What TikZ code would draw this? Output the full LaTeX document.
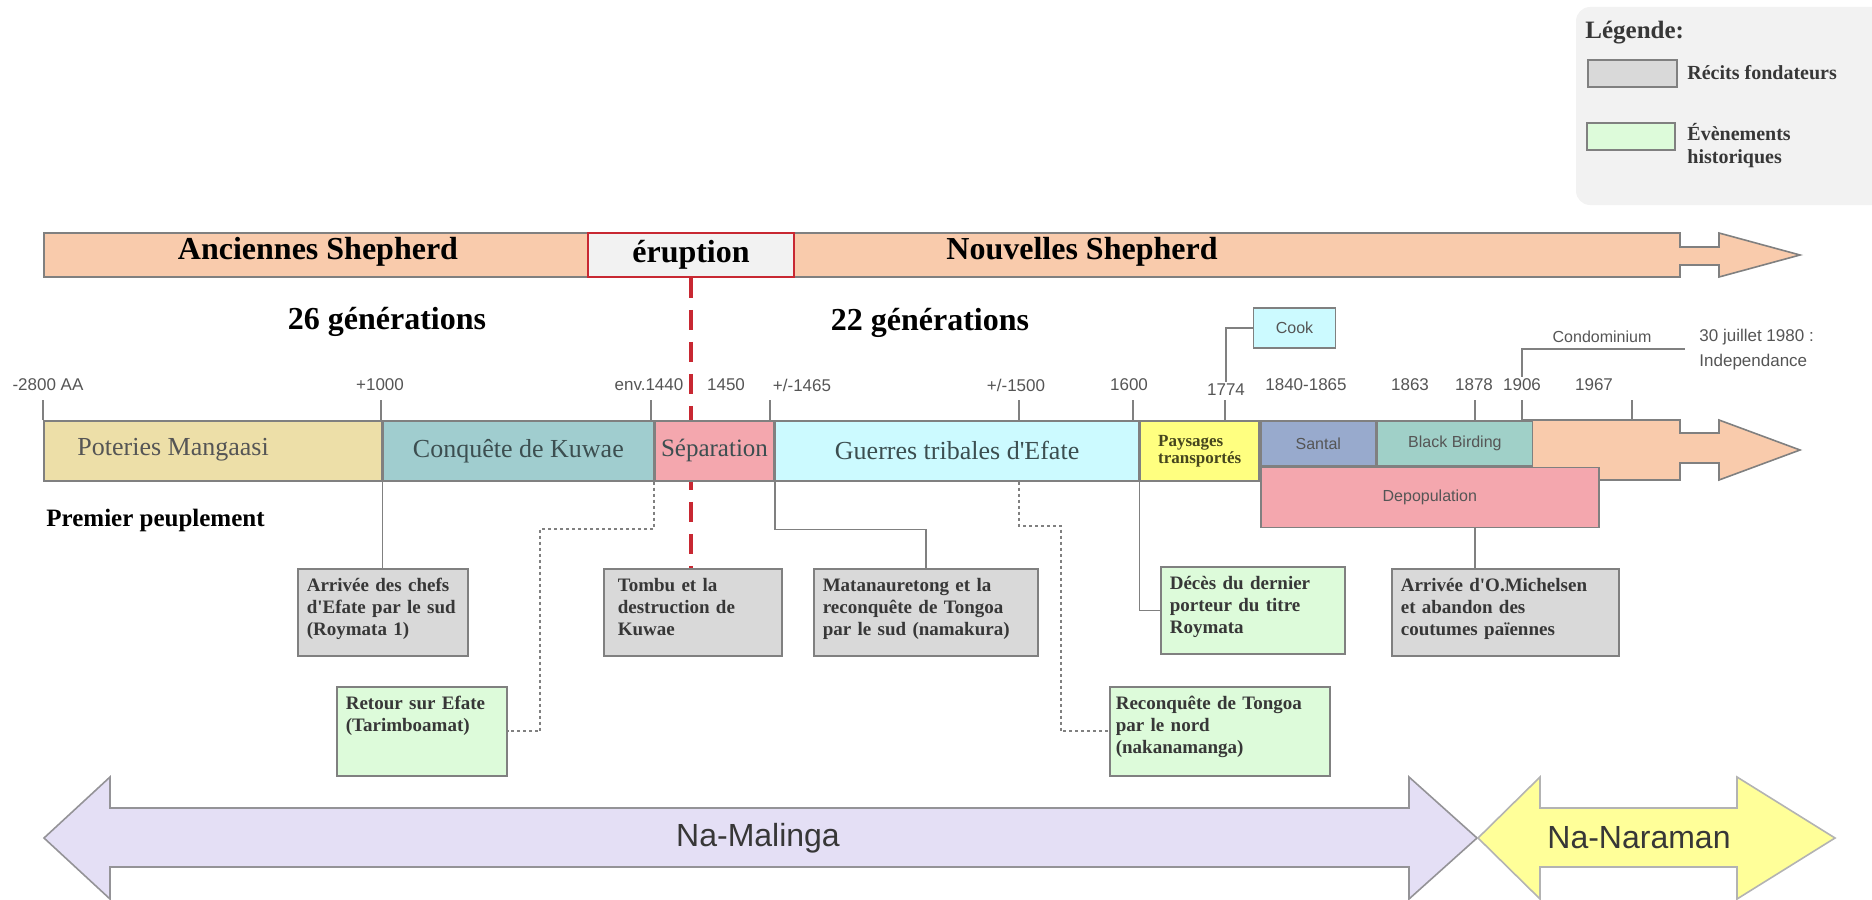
\documentclass[tikz,border=0pt]{standalone}
\usepackage{fontspec}
\setmainfont{Liberation Serif}
\setsansfont{Liberation Sans}
\newcommand{\sq}{\textquotesingle}

\definecolor{peach}{RGB}{249,203,172}
\definecolor{potcol}{RGB}{237,223,168}
\definecolor{conqcol}{RGB}{160,205,207}
\definecolor{sepcol}{RGB}{244,167,174}
\definecolor{guercol}{RGB}{204,250,255}
\definecolor{payscol}{RGB}{255,255,128}
\definecolor{santcol}{RGB}{152,170,205}
\definecolor{birdcol}{RGB}{160,208,200}
\definecolor{storygray}{RGB}{217,217,217}
\definecolor{histgreen}{RGB}{221,251,218}
\definecolor{lavender}{RGB}{228,223,245}
\definecolor{naryellow}{RGB}{255,255,153}
\definecolor{legbg}{RGB}{242,242,242}
\definecolor{erupred}{RGB}{200,40,50}
\definecolor{lineg}{RGB}{128,128,128}
\definecolor{txtg}{RGB}{85,85,85}
\definecolor{slatetxt}{RGB}{60,78,80}
\definecolor{darktxt}{RGB}{55,55,55}
\definecolor{olivetxt}{RGB}{70,70,30}

\tikzset{
  seg/.style={draw=lineg, line width=0.8pt, anchor=north west, inner sep=0pt,
    minimum height=30pt, text=slatetxt, font=\fontsize{13}{15}\selectfont},
  smallsans/.style={font=\sffamily\fontsize{8}{10}\selectfont, text=txtg},
  yr/.style={font=\sffamily\fontsize{8.5}{11}\selectfont, text=txtg, inner sep=1pt},
  period/.style={font=\bfseries\fontsize{16}{19}\selectfont, text=black, inner sep=1pt},
  story/.style={draw=lineg, line width=0.8pt, fill=storygray, anchor=north west,
    align=left, inner xsep=4.5pt, inner ysep=4pt, text height=7.5pt,
    text=darktxt, font=\bfseries\fontsize{9.5}{11}\selectfont},
  histo/.style={story, fill=histgreen},
  conn/.style={draw=lineg, line width=0.8pt},
  dotconn/.style={draw=lineg, line width=1pt, dash pattern=on 1.5pt off 1.5pt},
  reddash/.style={draw=erupred, line width=1.6pt, dash pattern=on 10pt off 6pt},
  legtxt/.style={font=\bfseries\fontsize{10}{11.5}\selectfont, text=darktxt, inner sep=1pt},
  leghead/.style={font=\bfseries\fontsize{12.5}{14}\selectfont, text=darktxt, inner sep=1pt},
  era/.style={font=\sffamily\fontsize{16}{19}\selectfont, text=darktxt}
}

\begin{document}
\begin{tikzpicture}[x=0.5pt,y=0.5pt,yscale=-1]
\useasboundingbox (0,0) rectangle (1872,899);

%Legend
\fill[legbg, rounded corners=7pt] (1576,7) -- (1895,7) -- (1895,205) -- (1576,205) -- cycle;
\node[leghead, anchor=west] (leg) at (1583,33) {Légende:};
\node[draw=lineg, line width=0.8pt, fill=storygray, minimum width=44.5pt, minimum height=13.5pt] (swstory) at (1632.5,73.5) {};
\node[legtxt, anchor=west] (lstory) at (1685,73) {Récits fondateurs};
\node[draw=lineg, line width=0.8pt, fill=histgreen, minimum width=44pt, minimum height=13.5pt] (swhist) at (1631,136.5) {};
\node[legtxt, anchor=west, align=left] (lhist) at (1685,146) {Évènements\\historiques};

%Top arrow
\draw[draw=lineg, line width=0.8pt, fill=peach] (44,233) -- (1680,233) -- (1680,247) -- (1719,247) -- (1719,233) -- (1800,255) -- (1719,277) -- (1719,265) -- (1680,265) -- (1680,277) -- (44,277) -- cycle;
\node[draw=erupred, line width=0.8pt, fill=legbg, minimum width=103pt, minimum height=22pt, font=\bfseries\fontsize{16}{19}\selectfont] (erup) at (691,255) {éruption};

% Text Node
\node[period] (anc) at (318,252) {Anciennes Shepherd};
\node[period] (nouv) at (1082,252) {Nouvelles Shepherd};
\node[period] (gen26) at (387,322) {26 générations};
\node[period] (gen22) at (930,323) {22 générations};

%Event boxes
\node[story, text width=76pt, text depth=28pt] (roy1) at (297,568) {Arrivée des chefs\\d\sq Efate par le sud\\(Roymata 1)};
\node[story, text width=75pt, text depth=28pt, inner xsep=7pt] (tombu) at (603,568) {Tombu et la\\destruction de\\Kuwae};
\node[story, text width=103pt, text depth=28pt] (mata) at (813,568) {Matanauretong et la\\reconquête de Tongoa\\par le sud (namakura)};
\node[story, text width=104.5pt, text depth=28pt] (mich) at (1391,568) {Arrivée d\sq O.Michelsen\\et abandon des\\coutumes païennes};
\node[histo, text width=76pt, text depth=29pt] (ret) at (336,686) {Retour sur Efate\\(Tarimboamat)};
\node[histo, text width=83pt, text depth=28pt] (deces) at (1160,566) {Décès du dernier\\porteur du titre\\Roymata};
\node[histo, text width=104pt, text depth=29pt, inner xsep=3pt] (reco) at (1109,686) {Reconquête de Tongoa\\par le nord\\(nakanamanga)};

%Red line, behind the bar
\draw[reddash] (erup.south) -- (erup.south |- tombu.north);

%Main bar, end with arrow head
\draw[draw=lineg, line width=0.8pt, fill=peach] (1522,420) -- (1680,420) -- (1680,433) -- (1719,433) -- (1719,420) -- (1800,450) -- (1719,480) -- (1719,463) -- (1680,463) -- (1680,480) -- (1522,480) -- cycle;

%Main bar segments
\node[seg, fill=potcol, minimum width=169pt] (pot) at (43,420) {};
\node[seg, fill=conqcol, minimum width=135pt] (conq) at (pot.north east) {Conquête de Kuwae};
\node[seg, fill=sepcol, minimum width=59.5pt, font=\fontsize{12.5}{15}\selectfont] (sep) at (conq.north east) {Séparation};
\node[seg, fill=guercol, minimum width=181.5pt] (guer) at (sep.north east) {Guerres tribales d\sq Efate};
\node[seg, fill=payscol, minimum width=59.5pt, align=left, text=olivetxt, font=\bfseries\fontsize{8.5}{8.5}\selectfont] (pays) at (guer.north east) {Paysages\\transportés};
\node[seg, smallsans, fill=santcol, minimum width=57.5pt, minimum height=22.5pt] (sant) at (pays.north east) {Santal};
\node[seg, smallsans, fill=birdcol, minimum width=77.5pt, minimum height=22.5pt] (bird) at (sant.north east) {Black Birding};
\node[seg, smallsans, fill=sepcol, minimum width=169pt, minimum height=30pt] (depop) at (sant.south west) {Depopulation};
\node[anchor=west, text=txtg, font=\fontsize{13}{15}\selectfont, inner sep=1pt] (potlbl) at (75,450) {Poteries Mangaasi};

%Ticks
\coordinate (tkAA) at (43,420);
\coordinate (tk1000) at (381,420);
\coordinate (tk1440) at (651,420);
\coordinate (tk1465) at (770,420);
\coordinate (tk1500) at (1019,420);
\coordinate (tk1600) at (1133,420);
\coordinate (tk1774) at (1225,420);
\coordinate (tk1878) at (1475,420);
\coordinate (tk1906) at (1522,420);
\coordinate (tk1967) at (1632,420);
\foreach \t in {tkAA,tk1000,tk1440,tk1465,tk1500,tk1600,tk1774,tk1878,tk1906,tk1967}
  \draw[conn] (\t) -- ++(0,-20);

% Text Node
\node[yr] (yAA) at (48,385) {-2800 AA};
\node[yr] (y1000) at (380,385) {+1000};
\node[yr] (y1440) at (649,385) {env.1440};
\node[yr] (y1450) at (726,385) {1450};
\node[yr] (y1465) at (802,385) {+/-1465};
\node[yr] (y1500) at (1016,385) {+/-1500};
\node[yr] (y1600) at (1129,385) {1600};
\node[yr] (y1774) at (1226,390) {1774};
\node[yr] (y1840) at (1306,385) {1840-1865};
\node[yr] (y1863) at (1410,385) {1863};
\node[yr] (y1878) at (1474,385) {1878};
\node[yr] (y1906) at (1522,385) {1906};
\node[yr] (y1967) at (1594,385) {1967};

%Cook
\node[draw=lineg, line width=0.8pt, fill=guercol, minimum width=41pt, minimum height=20pt, smallsans] (cook) at (1294.5,328) {Cook};
\draw[conn] (y1774.north) |- (cook.west);

%Condominium
\coordinate (condoend) at (1685,349);
\draw[conn] (y1906.north) |- (condoend);
\node[smallsans, inner sep=1pt] (condo) at (1602,337) {Condominium};
\node[yr, anchor=west, align=left, font=\sffamily\fontsize{8.5}{12.5}\selectfont] (indep) at (1697,350) {30 juillet 1980 :\\Independance};

\node[period, font=\bfseries\fontsize{12.5}{15}\selectfont, anchor=west] (prem) at (44,520) {Premier peuplement};

%Connectors
\draw[conn] (conq.south west) -- (conq.south west |- roy1.north);
\draw[conn] (sep.south east) -- ++(0,48) -| (mata.north);
\draw[conn] (pays.south west) |- (deces.west);
\draw[conn] (depop.south -| tk1878) -- (mich.north -| tk1878);
\draw[dotconn] (sep.south west) -- ++(0,47) -- ++(-114,0) |- (ret.east);
\draw[dotconn] (tk1500 |- guer.south) -- ++(0,44) -- ++(42,0) |- (reco.west);

%Bottom arrows
\draw[draw=lineg!80!lavender, line width=0.8pt, fill=lavender] (44,838) -- (110,777) -- (110,808) -- (1409,808) -- (1409,777) -- (1477,838) -- (1409,899) -- (1409,867) -- (110,867) -- (110,899) -- cycle;
\node[era] (mal) at (758,838) {Na-Malinga};
\draw[draw=lineg!60, line width=0.8pt, fill=naryellow] (1478,838) -- (1540,777) -- (1540,808) -- (1737,808) -- (1737,777) -- (1835,838) -- (1737,899) -- (1737,867) -- (1540,867) -- (1540,899) -- cycle;
\node[era] (nar) at (1639,838) {Na-Naraman};

\end{tikzpicture}
\end{document}
